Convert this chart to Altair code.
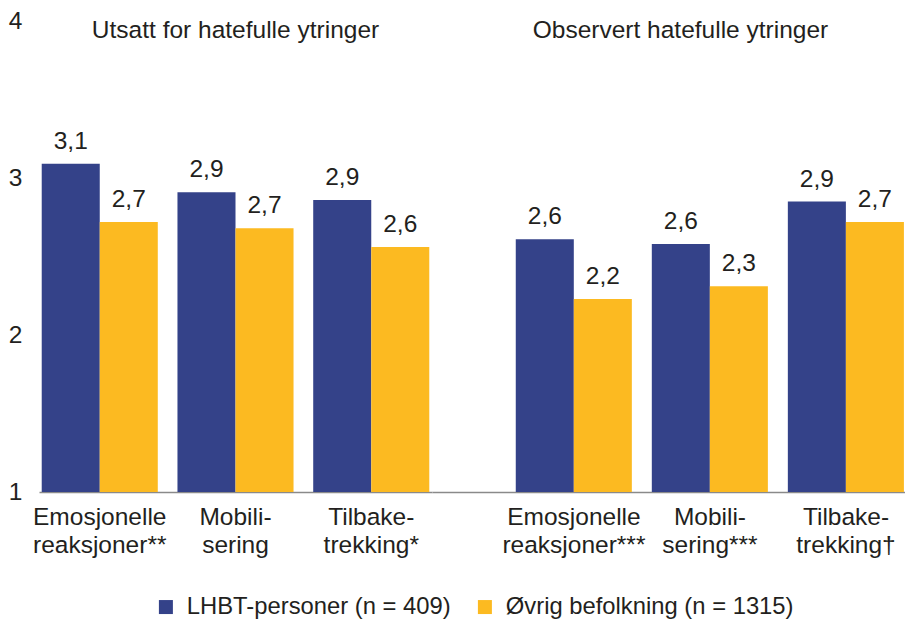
import altair as alt
import pandas as pd

# ---- data ----
series = ["LHBT-personer (n = 409)", "Øvrig befolkning (n = 1315)"]
colors = ["#344289", "#FCBA21"]

cats_left = ["Emosjonelle\nreaksjoner**", "Mobili-\nsering", "Tilbake-\ntrekking*"]
cats_right = ["Emosjonelle\nreaksjoner***", "Mobili-\nsering***", "Tilbake-\ntrekking\u2020"]

lhbt_left = [3.09, 2.91, 2.86]
ovrig_left = [2.72, 2.68, 2.56]
lhbt_right = [2.61, 2.58, 2.85]
ovrig_right = [2.23, 2.31, 2.72]

lhbt_left_lbl = ["3,1", "2,9", "2,9"]
ovrig_left_lbl = ["2,7", "2,7", "2,6"]
lhbt_right_lbl = ["2,6", "2,6", "2,9"]
ovrig_right_lbl = ["2,2", "2,3", "2,7"]

title_left = "Utsatt for hatefulle ytringer"
title_right = "Observert hatefulle ytringer"

y_ticks = [1, 2, 3, 4]

FONT = "Liberation Sans"
FS = 24.5
LFS = 23.8
TXT = "#231F20"
H = 471


def frame(cats, a, b, la, lb):
    rows = []
    for c, v, l in zip(cats, a, la):
        rows.append({"cat": c, "series": series[0], "value": v, "label": l})
    for c, v, l in zip(cats, b, lb):
        rows.append({"cat": c, "series": series[1], "value": v, "label": l})
    return pd.DataFrame(rows)


def panel(df, cats, title, width, show_y, xscale, title_dx, show_legend):
    x = alt.X(
        "cat:N",
        sort=cats,
        scale=xscale,
        axis=alt.Axis(
            title=None,
            labelExpr="split(datum.label, '\\n')",
            labelAngle=0,
            ticks=False,
            domainColor="#8a8a8a",
            domainWidth=1.5,
            labelPadding=13,
            labelLineHeight=28,
            labelFontSize=FS,
            labelFont=FONT,
            labelColor=TXT,
            labelLimit=0,
        ),
    )
    yaxis = (
        alt.Axis(
            title=None,
            values=y_ticks,
            domain=False,
            ticks=False,
            grid=False,
            labelPadding=17,
            labelFontSize=FS,
            labelFont=FONT,
            labelColor=TXT,
            format="d",
        )
        if show_y
        else None
    )
    y = alt.Y("value:Q", scale=alt.Scale(domain=[1, 4], zero=False, nice=False), axis=yaxis)
    xo = alt.XOffset("series:N", sort=series, scale=alt.Scale(paddingInner=0, paddingOuter=0))
    color = alt.Color(
        "series:N",
        sort=series,
        scale=alt.Scale(domain=series, range=colors),
        legend=(
            alt.Legend(
                title=None,
                orient="none",
                legendX=115,
                legendY=574,
                direction="horizontal",
                symbolType="square",
                symbolSize=196,
                symbolStrokeWidth=0,
                labelFontSize=LFS,
                labelFont=FONT,
                labelColor=TXT,
                labelOffset=9,
                labelLimit=0,
                columnPadding=22,
            )
            if show_legend
            else None
        ),
    )
    bars = alt.Chart(df).mark_bar().encode(x=x, xOffset=xo, y=y, y2=alt.datum(1), color=color)
    labels = (
        alt.Chart(df)
        .mark_text(baseline="bottom", dy=-10, font=FONT, fontSize=FS, color=TXT)
        .encode(x=x, xOffset=xo, y=y, text="label:N")
    )
    head = (
        alt.Chart(pd.DataFrame({"t": [title]}))
        .mark_text(baseline="alphabetic", align="center", font=FONT, fontSize=FS, color=TXT)
        .encode(text="t:N", x=alt.value(width / 2 + title_dx), y=alt.value(17))
    )
    return (bars + labels + head).properties(width=width, height=H)


df_left = frame(cats_left, lhbt_left, ovrig_left, lhbt_left_lbl, ovrig_left_lbl)
df_right = frame(cats_right, lhbt_right, ovrig_right, lhbt_right_lbl, ovrig_right_lbl)

left = panel(
    df_left, cats_left, title_left, 393, True,
    alt.Scale(paddingInner=0.145, paddingOuter=0.02), 0, True,
)
right = panel(
    df_right, cats_right, title_right, 473, False,
    alt.Scale(paddingInner=0.145, paddingOuter=0.311, align=0.99), 12, False,
)

chart = (
    alt.hconcat(left, right, spacing=0)
    .resolve_scale(x="independent", color="shared")
    .properties(padding=0, background="white")
    .configure_view(strokeWidth=0, stroke="transparent")
)

chart.save("out.html", embed_options={"renderer": "svg", "actions": False})
